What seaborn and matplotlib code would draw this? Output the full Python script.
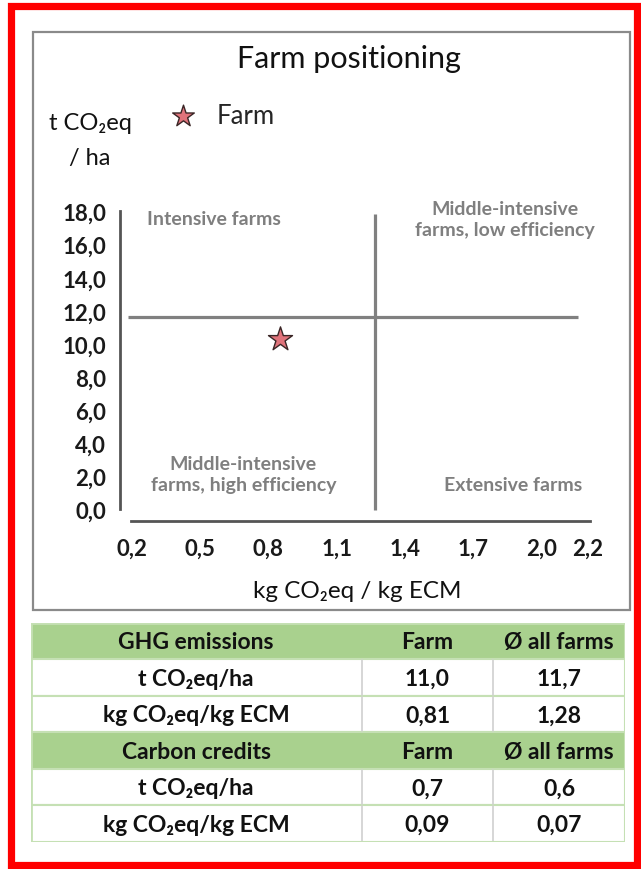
import matplotlib
matplotlib.use("Agg")
import matplotlib.pyplot as plt
import seaborn as sns
import pandas as pd
from matplotlib.patches import Rectangle

# data
farm_x = [0.85]      # kg CO2eq / kg ECM (plotted position)
farm_y = [10.3]      # t CO2eq / ha (plotted position)
avg_x = 1.27         # vertical quadrant line
avg_y = 11.6         # horizontal quadrant line
x_ticks = [0.2, 0.5, 0.8, 1.1, 1.4, 1.7, 2.0, 2.2]
y_ticks = [0, 2, 4, 6, 8, 10, 12, 14, 16, 18]
quadrant_labels = ["Intensive farms", "Middle-intensive\nfarms, low efficiency",
                   "Middle-intensive\nfarms, high efficiency", "Extensive farms"]

table_rows = [
    ["GHG emissions", "Farm", "Ø all farms"],
    ["t CO₂eq/ha", "11,0", "11,7"],
    ["kg CO₂eq/kg ECM", "0,81", "1,28"],
    ["Carbon credits", "Farm", "Ø all farms"],
    ["t CO₂eq/ha", "0,7", "0,6"],
    ["kg CO₂eq/kg ECM", "0,09", "0,07"],
]
header_rows = [0, 3]

sns.set_style("white")
plt.rcParams['font.family'] = ['Lato', 'DejaVu Sans']

W, H = 641, 870
fig = plt.figure(figsize=(W / 100, H / 100), dpi=100)


def fx(px):
    return px / W


def fy(py):
    return 1 - py / H


# red outer frame and gray chart box
fig.patches.append(Rectangle((fx(10.5), fy(866)), fx(637) - fx(10.5), fy(6.5) - fy(866),
                             transform=fig.transFigure, fill=False, edgecolor='#ff0000', lw=5.2))
fig.patches.append(Rectangle((fx(33), fy(610.5)), fx(629.5) - fx(33), fy(33) - fy(610.5),
                             transform=fig.transFigure, fill=False, edgecolor='#8a8a8a', lw=1.6))

# main chart axes (pixel box 100..610 x 200..530)
ax = fig.add_axes([fx(100), fy(530), fx(610) - fx(100), fy(200) - fy(530)])
ax.set_xlim(0.0608, 2.2997)
ax.set_ylim(-1.2107, 18.765)
ax.patch.set_alpha(0)

df = pd.DataFrame({"x": farm_x, "y": farm_y, "who": ["Farm"]})
sns.scatterplot(data=df, x="x", y="y", ax=ax, marker="*", s=330, color="#e0737b",
                edgecolor="#3a2626", linewidth=1.0, label="Farm", zorder=5)

# quadrant lines
ax.hlines(avg_y, 0.185, 2.16, color="#808080", lw=2.3, zorder=3)
ax.vlines(avg_x, -0.04, 17.86, color="#808080", lw=2.3, zorder=3)

# axes spines placed like the original (detached x axis)
for s in ["top", "right"]:
    ax.spines[s].set_visible(False)
ax.spines["left"].set_position(("data", 0.1486))
ax.spines["left"].set_bounds(0, 18.05)
ax.spines["bottom"].set_position(("data", -0.708))
ax.spines["bottom"].set_bounds(0.196, 2.212)
for s in ["left", "bottom"]:
    ax.spines[s].set_color("#555555")
    ax.spines[s].set_linewidth(2.0)

ax.set_xticks(x_ticks)
ax.set_xticklabels([f"{v:.1f}".replace(".", ",") for v in x_ticks])
ax.set_yticks(y_ticks)
ax.set_yticklabels([f"{v:.1f}".replace(".", ",") for v in y_ticks])
ax.tick_params(axis="x", direction="inout", length=15, width=1, color="#c8c8c8",
               pad=5, labelsize=16, labelcolor="#1a1a1a")
ax.tick_params(axis="y", direction="inout", length=11, width=1, color="#c8c8c8",
               pad=4.5, labelsize=16, labelcolor="#1a1a1a")
for lab in ax.get_xticklabels() + ax.get_yticklabels():
    lab.set_fontweight("bold")
ax.set_xlabel("")
ax.set_ylabel("")

# quadrant labels
qc = "#7f7f7f"
ax.text(0.56, 17.6, quadrant_labels[0], ha="center", va="center", color=qc,
        fontsize=14, fontweight="bold")
ax.text(1.84, 17.55, quadrant_labels[1], ha="center", va="center", color=qc,
        fontsize=14, fontweight="bold", linespacing=1.3)
ax.text(0.69, 2.1, quadrant_labels[2], ha="center", va="center", color=qc,
        fontsize=14, fontweight="bold", linespacing=1.3)
ax.text(1.875, 1.5, quadrant_labels[3], ha="center", va="center", color=qc,
        fontsize=14, fontweight="bold")

# legend
ax.legend(loc="center left", bbox_to_anchor=(fx(172), fy(116)), bbox_transform=fig.transFigure,
          frameon=False, borderpad=0, borderaxespad=0, handlelength=0.85, handletextpad=0.9,
          fontsize=18.5, markerscale=0.9)

# titles and axis labels
fig.text(fx(349), fy(59), "Farm positioning", ha="center", va="center", fontsize=22, color="#111111")
fig.text(fx(90), fy(124), "t CO₂eq", ha="center", va="center", fontsize=17, color="#111111")
fig.text(fx(90), fy(159), "/ ha", ha="center", va="center", fontsize=17, color="#111111")
fig.text(fx(357), fy(592), "kg CO₂eq / kg ECM", ha="center", va="center", fontsize=17.5,
         color="#111111")

# table drawn in pixel coordinates
tax = fig.add_axes([fx(30.7), fy(842.7), fx(625) - fx(30.7), fy(623.5) - fy(842.7)])
tw, th = 625 - 30.7, 842.7 - 623.5
tax.set_xlim(0, tw)
tax.set_ylim(th, 0)
tax.axis("off")
col_edges = [0, 361.7 - 30.7, 493.3 - 30.7, tw]
row_h = th / len(table_rows)
green = "#a9d18e"
for r, row in enumerate(table_rows):
    y0 = r * row_h
    is_head = r in header_rows
    tax.add_patch(Rectangle((0, y0), tw, row_h, facecolor=green if is_head else "white",
                            edgecolor="#c5e0b4", lw=1.5, zorder=1))
    for c, txt in enumerate(row):
        x0, x1 = col_edges[c], col_edges[c + 1]
        if not is_head and c > 0:
            tax.plot([x0, x0], [y0 + 1, y0 + row_h - 1], color="#d0d0d0", lw=1.2, zorder=2)
        tax.text((x0 + x1) / 2, y0 + row_h / 2 + 1, txt, ha="center", va="center",
                 fontsize=16.5, fontweight="bold", color="#111111", zorder=3)
tax.add_patch(Rectangle((0, 0), tw, th, fill=False, edgecolor="#c5e0b4", lw=2, zorder=4))

fig.savefig("out.png", dpi=100)
